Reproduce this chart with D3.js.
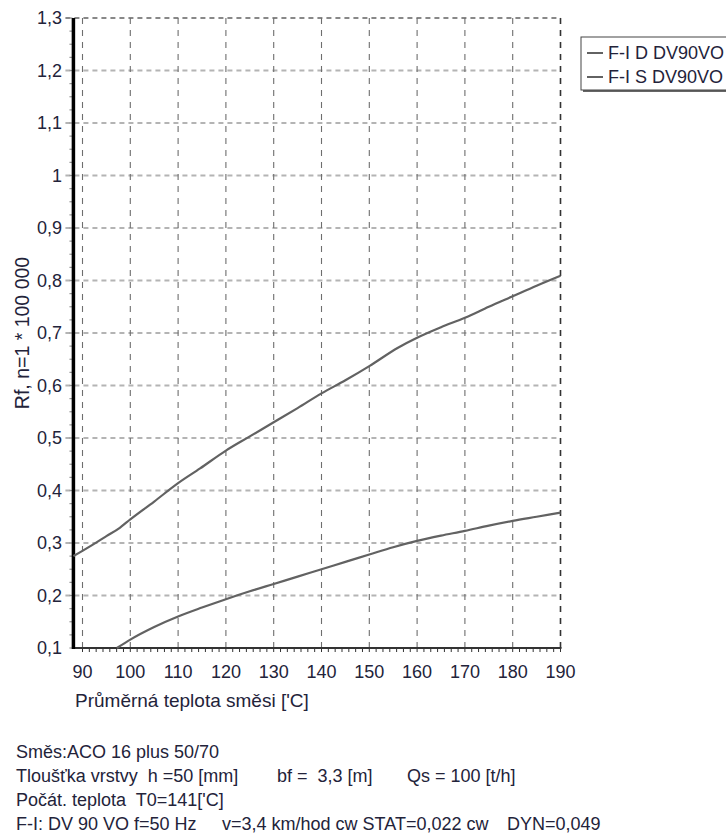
<!DOCTYPE html>
<html><head><meta charset="utf-8">
<script src="https://cdn.jsdelivr.net/npm/d3@7"></script>
<style>
body{margin:0;background:#fff}
svg{display:block}
text{font-family:"Liberation Sans",Arial,sans-serif;fill:#23233a}
</style>
</head><body><div id="chart"></div>
<script>
// ---- data ----
const xTicks = [90,100,110,120,130,140,150,160,170,180,190];
const yTicks = [0.1,0.2,0.3,0.4,0.5,0.6,0.7,0.8,0.9,1.0,1.1,1.2,1.3];
const yTickLabels = ["0,1","0,2","0,3","0,4","0,5","0,6","0,7","0,8","0,9","1","1,1","1,2","1,3"];
const seriesNames = ["F-I D DV90VO","F-I S DV90VO"];
const tempD = [88.1,92,95,97.8,100,105,110,114.6,120,125,130,135,140,145,150,156,160,165,170,175,180,185,190];
const valD  = [0.275,0.296,0.313,0.329,0.345,0.379,0.414,0.442,0.476,0.503,0.530,0.557,0.585,0.610,0.637,0.672,0.691,0.711,0.729,0.750,0.770,0.790,0.809];
const tempS = [97.2,100,105,110,115,120,125,130,135,140,145,150,155,160,165,170,175,180,185,190];
const valS  = [0.100,0.116,0.140,0.160,0.177,0.193,0.208,0.222,0.236,0.250,0.264,0.278,0.292,0.304,0.314,0.323,0.333,0.342,0.350,0.358];
const xTitle = "Průměrná teplota směsi ['C]";
const yTitle = "Rf, n=1 * 100 000";
const infoLine1 = ["Směs:ACO 16 plus 50/70"];
const infoLine2 = ["Tloušťka vrstvy  h =50 [mm]", "bf =  3,3 [m]", "Qs = 100 [t/h]"];
const infoLine3 = ["Počát. teplota  T0=141['C]"];
const infoLine4 = ["F-I: DV 90 VO f=50 Hz", "v=3,4 km/hod cw STAT=0,022 cw", "DYN=0,049"];

// ---- layout ----
const W = 726, H = 833;
const svg = d3.select("#chart").append("svg").attr("width", W).attr("height", H);
const xMin = 88.1, xMax = 190, yMin = 0.1, yMax = 1.3;
const x = d3.scaleLinear().domain([90, 190]).range([82.5, 560.5]);
const y = d3.scaleLinear().domain([yMin, yMax]).range([648, 18]);
const X0 = x(xMin), X1 = x(xMax), Y0 = y(yMin), Y1 = y(yMax);

// horizontal grid
svg.append("g").selectAll("line").data(yTicks.filter(d => d > yMin + 1e-9)).join("line")
  .attr("x1", X0 - 8).attr("x2", X1).attr("y1", d => y(d)).attr("y2", d => y(d))
  .attr("stroke", d => d >= yMax - 1e-9 ? "#888" : "#b4b4b4")
  .attr("stroke-width", 2).attr("stroke-dasharray", "5,4");
// vertical grid
svg.append("g").selectAll("line").data(xTicks).join("line")
  .attr("x1", d => x(d)).attr("x2", d => x(d)).attr("y1", Y1).attr("y2", Y0 + 6)
  .attr("stroke", d => d >= xMax ? "#333" : "#6e6e6e")
  .attr("stroke-width", d => d >= xMax ? 1.6 : 1.1).attr("stroke-dasharray", "6,6");

// y minor ticks
svg.append("g").selectAll("line").data(d3.range(yMin, yMax + 1e-9, 0.025)).join("line")
  .attr("x1", X0 - 4).attr("x2", X0 - 1).attr("y1", d => y(d)).attr("y2", d => y(d))
  .attr("stroke", "#999").attr("stroke-width", 1.2);
// x minor ticks
svg.append("g").selectAll("line").data(d3.range(90, xMax + 1e-9, 10 / 7)).join("line")
  .attr("x1", d => x(d)).attr("x2", d => x(d)).attr("y1", Y0).attr("y2", Y0 + 4)
  .attr("stroke", "#333").attr("stroke-width", 1);

// x axis line
svg.append("line").attr("x1", X0).attr("x2", X1 + 1).attr("y1", Y0).attr("y2", Y0)
  .attr("stroke", "#333").attr("stroke-width", 2);
// y axis line
svg.append("line").attr("x1", X0).attr("x2", X0).attr("y1", Y1).attr("y2", Y0 + 1)
  .attr("stroke", "#000").attr("stroke-width", 3.5);

// curves
const line = d3.line().x(d => x(d[0])).y(d => y(d[1])).curve(d3.curveMonotoneX);
[[tempD, valD], [tempS, valS]].forEach(([t, v]) => {
  svg.append("path").datum(t.map((tt, i) => [tt, v[i]]))
    .attr("d", line).attr("fill", "none").attr("stroke", "#626262").attr("stroke-width", 2.2);
});

// tick labels
svg.append("g").selectAll("text").data(yTicks).join("text")
  .attr("x", 62).attr("y", d => y(d)).attr("dy", "0.36em").attr("text-anchor", "end")
  .attr("font-size", 18).text((d, i) => yTickLabels[i]);
svg.append("g").selectAll("text").data(xTicks).join("text")
  .attr("x", d => x(d)).attr("y", 678).attr("text-anchor", "middle")
  .attr("font-size", 18).text(d => d);

// titles
svg.append("text").attr("x", 75).attr("y", 707).attr("font-size", 19).text(xTitle);
svg.append("text").attr("transform", `translate(29,${(Y0 + Y1) / 2}) rotate(-90)`)
  .attr("text-anchor", "middle").attr("font-size", 19.5).text(yTitle);

// legend
const lg = svg.append("g");
lg.append("rect").attr("x", 583).attr("y", 39).attr("width", 160).attr("height", 53).attr("fill", "#666");
lg.append("rect").attr("x", 581).attr("y", 37).attr("width", 160).attr("height", 53)
  .attr("fill", "#fff").attr("stroke", "#444").attr("stroke-width", 1);
seriesNames.forEach((n, i) => {
  const cy = 53 + i * 24;
  lg.append("line").attr("x1", 587).attr("x2", 603).attr("y1", cy).attr("y2", cy)
    .attr("stroke", "#626262").attr("stroke-width", 2);
  lg.append("text").attr("x", 608).attr("y", cy + 6).attr("font-size", 18).text(n);
});

// info text block
const infoX = [[16], [16, 277, 407], [16], [16, 222, 507]];
const infoY = [758, 782, 806, 830];
[infoLine1, infoLine2, infoLine3, infoLine4].forEach((segs, r) => {
  segs.forEach((s, k) => {
    svg.append("text").attr("x", infoX[r][k]).attr("y", infoY[r])
      .attr("font-size", 18).style("white-space", "pre").text(s);
  });
});
</script>
</body></html>
